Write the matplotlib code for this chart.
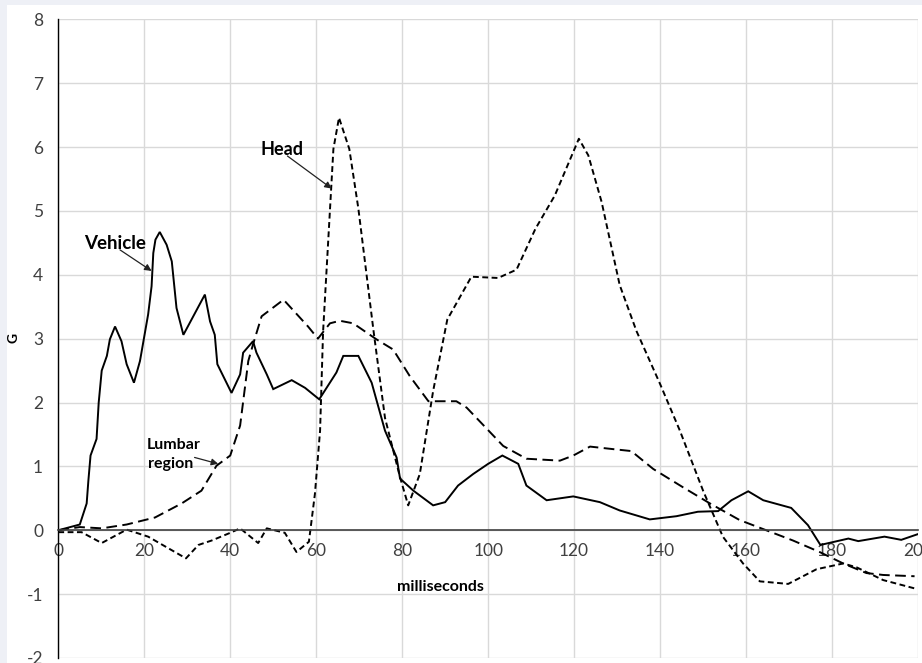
import matplotlib.pyplot as plt
from matplotlib.patches import Rectangle

# Acceleration traces (G), time in milliseconds
veh_t = [0, 5.0, 6.6, 7.0, 7.5, 8.9, 9.4, 10.1, 11.3, 12.0, 13.2, 14.7, 15.9, 17.6, 19.0,
         20.9, 21.7, 22.1, 22.6, 23.6, 25.2, 26.4, 27.5, 29.1, 34.1, 35.3, 36.4, 37.0,
         40.3, 42.3, 43.0, 45.3, 46.1, 48.5, 50.0, 54.3, 57.4, 60.7, 64.7, 66.3, 69.8,
         72.9, 76.0, 78.7, 79.5, 82.6, 87.2, 90.0, 93.0, 96.5, 100.0, 103.3, 107.0,
         108.9, 113.6, 119.8, 126.0, 130.6, 137.6, 143.8, 148.8, 153.5, 156.6, 160.5,
         164.0, 170.5, 174.4, 177.3, 183.8, 186.1, 192.2, 196.1, 200.0]
veh_g = [0, 0.09, 0.42, 0.78, 1.17, 1.43, 2.0, 2.5, 2.73, 2.99, 3.19, 2.96, 2.60, 2.31, 2.65,
         3.38, 3.82, 4.34, 4.55, 4.67, 4.47, 4.21, 3.48, 3.06, 3.69, 3.27, 3.06, 2.60,
         2.15, 2.44, 2.78, 2.96, 2.78, 2.44, 2.21, 2.35, 2.23, 2.05, 2.47, 2.73, 2.73,
         2.31, 1.56, 1.14, 0.81, 0.62, 0.39, 0.44, 0.70, 0.88, 1.04, 1.17, 1.04,
         0.70, 0.47, 0.53, 0.44, 0.31, 0.17, 0.22, 0.29, 0.30, 0.47, 0.61,
         0.47, 0.35, 0.08, -0.23, -0.13, -0.17, -0.10, -0.15, -0.06]

head_t = [0, 5.4, 10.1, 15.9, 20.9, 29.7, 32.6, 35.7, 40.0, 42.3, 46.5, 48.5, 52.7, 55.4,
          58.3, 59.7, 60.9, 61.6, 64.0, 65.3, 67.7, 69.8, 73.3, 76.0, 79.5, 81.4, 84.1,
          87.2, 90.5, 96.1, 102.3, 106.6, 111.0, 115.5, 121.1, 123.3, 126.4, 130.6,
          134.5, 140.0, 144.6, 150.0, 154.6, 159.3, 163.2, 169.8, 176.4, 182.6, 185.7,
          191.9, 199.2]
head_g = [-0.03, -0.03, -0.20, 0.01, -0.10, -0.44, -0.23, -0.16, -0.04, 0.03, -0.20, 0.03,
          -0.04, -0.34, -0.18, 0.57, 1.56, 3.11, 5.97, 6.46, 5.97, 5.04, 3.14, 1.76, 0.83,
          0.39, 0.88, 2.18, 3.30, 3.97, 3.95, 4.08, 4.72, 5.24, 6.13, 5.87, 5.14, 3.84,
          3.12, 2.29, 1.56, 0.62, -0.10, -0.52, -0.80, -0.84, -0.61, -0.52, -0.58,
          -0.78, -0.91]

lum_t = [0, 5.0, 10.1, 15.9, 22.5, 28.7, 33.3, 36.8, 40.0, 42.3, 44.2, 45.3, 47.3, 52.4,
         58.1, 60.4, 63.2, 65.5, 68.6, 74.0, 77.9, 81.8, 86.1, 92.6, 95.0, 103.5, 108.9,
         116.7, 119.8, 123.7, 129.1, 133.3, 138.4, 145.4, 151.6, 158.5, 164.7, 170.9,
         177.1, 182.6, 188.0, 191.9, 199.2]
lum_g = [0, 0.05, 0.03, 0.09, 0.20, 0.42, 0.62, 1.01, 1.17, 1.64, 2.65, 2.91, 3.35, 3.61,
         3.19, 3.00, 3.24, 3.28, 3.24, 2.99, 2.83, 2.41, 2.02, 2.02, 1.92, 1.32, 1.12,
         1.09, 1.17, 1.31, 1.27, 1.24, 0.96, 0.67, 0.42, 0.16, 0.0, -0.16,
         -0.34, -0.52, -0.67, -0.70, -0.72]

x_ticks = list(range(0, 201, 20))
y_ticks = list(range(-2, 9))

plt.rcParams['font.family'] = ['Lato', 'DejaVu Sans']
plt.rcParams['axes.unicode_minus'] = False

fig = plt.figure(figsize=(9.22, 6.63), dpi=100, facecolor='#eef0f6')
# white chart area inside the light screenshot border
fig.patches.append(Rectangle((7 / 922, 0), 1, 1 - 5 / 663, transform=fig.transFigure,
                             facecolor='white', edgecolor='none', zorder=-10))
ax = fig.add_axes([58.3 / 922, 1 - 658 / 663, (918 - 58.3) / 922, (658 - 19.3) / 663])
ax.set_facecolor('none')

ax.plot(veh_t, veh_g, color='black', lw=1.4, solid_joinstyle='miter')
ax.plot(lum_t, lum_g, color='black', lw=1.4, linestyle=(0, (5.5, 2.8)))
ax.plot(head_t, head_g, color='black', lw=1.4, linestyle=(0, (3.0, 1.8)))

ax.set_xlim(0, 200)
ax.set_ylim(-2, 8)
ax.set_xticks(x_ticks)
ax.set_yticks(y_ticks)
ax.grid(True, color='#d9d9d9', lw=1.0)
ax.set_axisbelow(True)

for side in ['top', 'right']:
    ax.spines[side].set_visible(False)
ax.spines['left'].set_color('black')
ax.spines['left'].set_linewidth(1.0)
ax.spines['bottom'].set_position(('data', 0))
ax.spines['bottom'].set_color('#404040')
ax.spines['bottom'].set_linewidth(1.2)
ax.tick_params(axis='both', length=0, labelsize=12.5, labelcolor='#404040')
ax.tick_params(axis='x', pad=9)
ax.tick_params(axis='y', pad=11)

ax.text(89, -0.89, 'milliseconds', ha='center', va='center', fontsize=11.5,
        fontweight='bold', color='black')
fig.text(13 / 922, 1 - 338 / 663, 'G', rotation=90, ha='center', va='center',
         fontsize=10, fontweight='bold')

# curve labels with pointer arrows
arrow = dict(arrowstyle='-|>', lw=0.9, color='#222222', mutation_scale=10, shrinkA=0, shrinkB=0)
ax.text(13.2, 4.40, 'Vehicle', ha='center', va='baseline', fontsize=13.5, fontweight='bold')
ax.annotate('', xy=(21.7, 4.06), xytext=(14.35, 4.39), arrowprops=arrow)
ax.text(52.0, 5.88, 'Head', ha='center', va='baseline', fontsize=13, fontweight='bold')
ax.annotate('', xy=(63.6, 5.35), xytext=(53.3, 5.86), arrowprops=arrow)
ax.text(20.6, 1.27, 'Lumbar', ha='left', va='baseline', fontsize=11.5, fontweight='bold')
ax.text(20.8, 0.97, 'region', ha='left', va='baseline', fontsize=11.5, fontweight='bold')
ax.annotate('', xy=(37.2, 1.04), xytext=(31.7, 1.14), arrowprops=arrow)

fig.savefig('out.png', dpi=100, facecolor=fig.get_facecolor())
